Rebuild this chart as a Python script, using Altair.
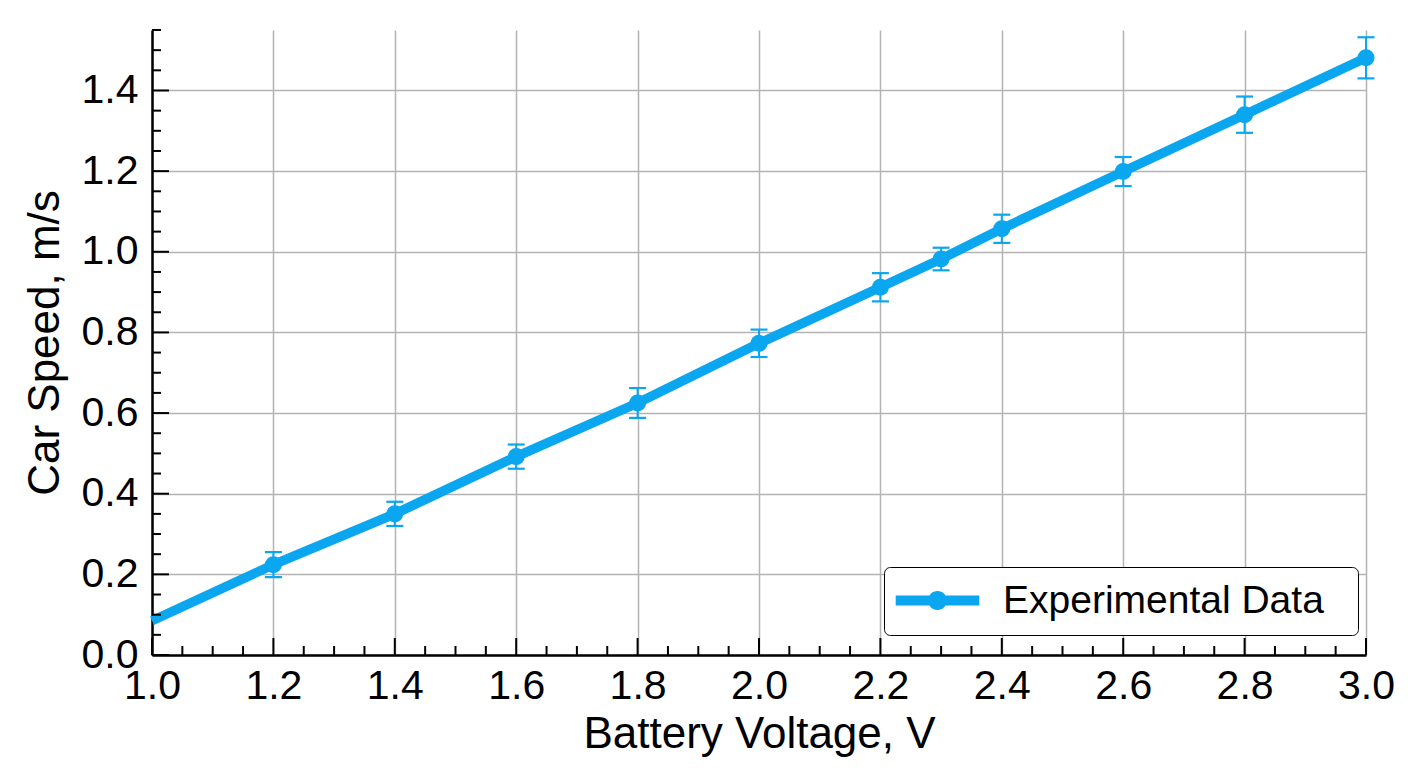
import altair as alt
import pandas as pd

# ---- data ----
voltage = [1.2, 1.4, 1.6, 1.8, 2.0, 2.2, 2.3, 2.4, 2.6, 2.8, 3.0]
speed = [0.224, 0.350, 0.492, 0.625, 0.773, 0.912, 0.982, 1.057, 1.199, 1.340, 1.481]
speed_err = [0.031, 0.030, 0.030, 0.037, 0.034, 0.035, 0.028, 0.035, 0.036, 0.045, 0.051]

# line starts at the left edge of the axis
line_voltage = [1.0] + voltage
line_speed = [0.085] + speed

x_major = [1.0, 1.2, 1.4, 1.6, 1.8, 2.0, 2.2, 2.4, 2.6, 2.8, 3.0]
x_minor = [round(1.0 + 0.05 * i, 2) for i in range(41)]
y_major = [0.0, 0.2, 0.4, 0.6, 0.8, 1.0, 1.2, 1.4]
y_minor = [round(0.05 * i, 2) for i in range(32)]

series_name = "Experimental Data"
BLUE = "#0aa6f0"
W, H = 1214, 625
FONT = "Liberation Sans"

pts = pd.DataFrame({"v": voltage, "s": speed, "e": speed_err})
pts["lo"] = pts["s"] - pts["e"]
pts["hi"] = pts["s"] + pts["e"]
pts["series"] = series_name
line_df = pd.DataFrame({"v": line_voltage, "s": line_speed})

xscale = alt.Scale(domain=[1.0, 3.0], nice=False, zero=False)
yscale = alt.Scale(domain=[0.0, 1.55], nice=False, zero=False)

xaxis = alt.Axis(values=x_major, format=".1f", tickSize=0, labelPadding=11,
                 title="Battery Voltage, V", titlePadding=6, grid=True,
                 labelFlush=False)
yaxis = alt.Axis(values=y_major, format=".1f", tickSize=0, labelPadding=14,
                 title="Car Speed, m/s", titlePadding=14, grid=True)

line = alt.Chart(line_df).mark_line(color=BLUE, strokeWidth=9.5).encode(
    x=alt.X("v:Q", scale=xscale, axis=xaxis),
    y=alt.Y("s:Q", scale=yscale, axis=yaxis),
)

err = alt.Chart(pts).mark_rule(color=BLUE, strokeWidth=2).encode(
    x=alt.X("v:Q", scale=xscale),
    y=alt.Y("lo:Q", scale=yscale),
    y2="hi:Q",
)
cap_lo = alt.Chart(pts).mark_tick(color=BLUE, orient="horizontal", size=17, thickness=2.2, opacity=1).encode(
    x=alt.X("v:Q", scale=xscale),
    y=alt.Y("lo:Q", scale=yscale),
)
cap_hi = alt.Chart(pts).mark_tick(color=BLUE, orient="horizontal", size=17, thickness=2.2, opacity=1).encode(
    x=alt.X("v:Q", scale=xscale),
    y=alt.Y("hi:Q", scale=yscale),
)

legend_symbol = ("M-4.4,-0.53 L4.4,-0.53 L4.4,0.53 L-4.4,0.53 Z "
                 "M1,0 A1,1 0 1,1 -1,0 A1,1 0 1,1 1,0 Z")

points = alt.Chart(pts).mark_circle(size=290, opacity=1).encode(
    x=alt.X("v:Q", scale=xscale),
    y=alt.Y("s:Q", scale=yscale),
    color=alt.Color(
        "series:N",
        scale=alt.Scale(domain=[series_name], range=[BLUE]),
        legend=alt.Legend(
            title="\u00a0", titleOrient="right", titleFontSize=39, titlePadding=20,
            orient="none", legendX=732, legendY=537,
            symbolType=legend_symbol, symbolSize=361,
            symbolOffset=20, labelOffset=46,
            labelFont=FONT, labelFontSize=39, labelColor="black",
            labelLimit=600,
            padding=14, strokeColor="black", fillColor="white",
            cornerRadius=6, symbolOpacity=1,
        ),
    ),
)

# inward tick marks
xmaj_df = pd.DataFrame({"t": x_major})
xmin_df = pd.DataFrame({"t": [t for t in x_minor if abs(round(t * 5) - t * 5) > 1e-6]})
ymaj_df = pd.DataFrame({"t": y_major})
ymin_df = pd.DataFrame({"t": [t for t in y_minor if abs(round(t * 5) - t * 5) > 1e-6]})

xt_major = alt.Chart(xmaj_df).mark_rule(color="black", strokeWidth=2).encode(
    x=alt.X("t:Q", scale=xscale), y=alt.value(H), y2=alt.value(H - 17))
xt_minor = alt.Chart(xmin_df).mark_rule(color="black", strokeWidth=2).encode(
    x=alt.X("t:Q", scale=xscale), y=alt.value(H), y2=alt.value(H - 9))
yt_major = alt.Chart(ymaj_df).mark_rule(color="black", strokeWidth=2).encode(
    y=alt.Y("t:Q", scale=yscale), x=alt.value(0), x2=alt.value(17))
yt_minor = alt.Chart(ymin_df).mark_rule(color="black", strokeWidth=2).encode(
    y=alt.Y("t:Q", scale=yscale), x=alt.value(0), x2=alt.value(9))

chart = alt.layer(
    line, err, cap_lo, cap_hi, points, xt_major, xt_minor, yt_major, yt_minor
).properties(
    width=W, height=H,
    autosize=alt.AutoSizeParams(type="none"),
    padding={"left": 144, "top": 22, "right": 30, "bottom": 110},
).configure_view(
    stroke=None
).configure_axis(
    labelFont=FONT, labelFontSize=41, labelColor="black",
    titleFont=FONT, titleFontSize=44, titleFontWeight="normal", titleColor="black",
    domainColor="black", domainWidth=2.5,
    gridColor="#b3b3b3", gridWidth=1.5,
)

chart.save("out.html", embed_options={"renderer": "svg", "actions": False})
